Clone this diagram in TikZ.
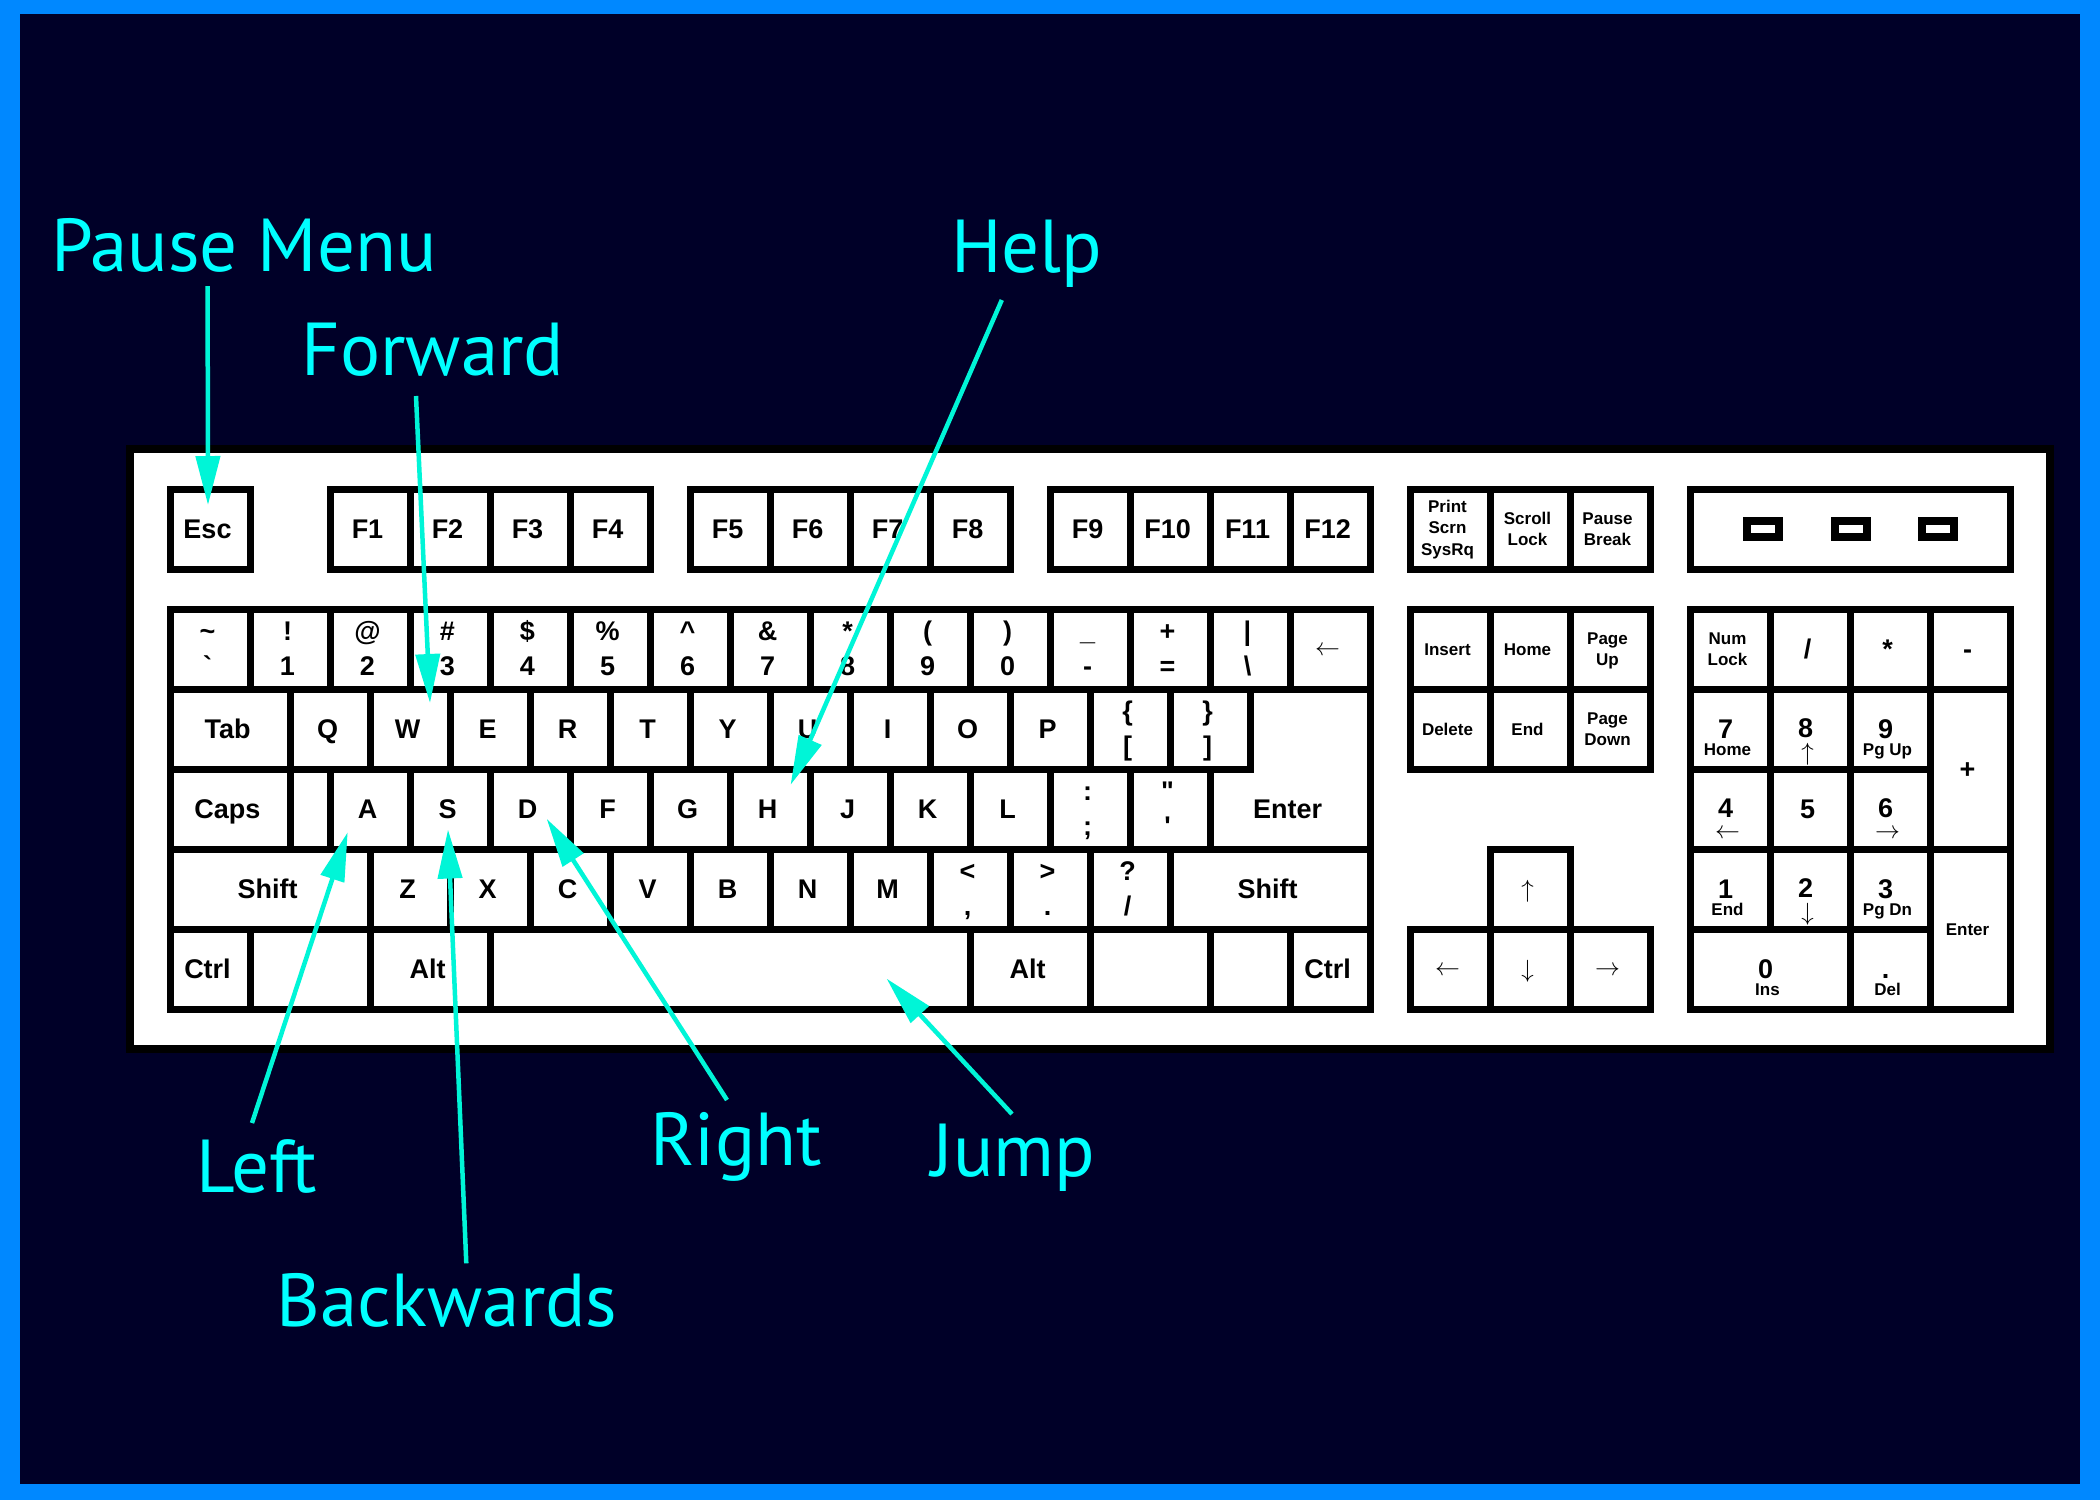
\documentclass[tikz,border=0pt]{standalone}
\usepackage{fontspec}
\newfontfamily\kf{Liberation Sans}[Ligatures=TeXOff]
\newfontfamily\lf{PT Sans}
\usetikzlibrary{arrows.meta}
\definecolor{bgnavy}{RGB}{0,0,40}
\definecolor{frameblue}{RGB}{0,136,255}
\definecolor{labcyan}{RGB}{0,255,255}
\definecolor{arrowcyan}{RGB}{0,245,215}
\tikzset{
  keybox/.style={draw=black, fill=white, line width=7pt, inner sep=0pt, outer sep=0pt, rectangle},
  kl/.style={font=\kf\bfseries\fontsize{27}{27}\selectfont, inner sep=0pt},
  ks/.style={font=\kf\bfseries\fontsize{17}{17}\selectfont, inner sep=0pt},
  ka/.style={font=\fontsize{27}{27}\selectfont, inner sep=0pt},
  kas/.style={font=\fontsize{24}{24}\selectfont, inner sep=0pt},
  callout/.style={font=\lf\fontsize{75}{80}\selectfont, text=labcyan, inner sep=0pt},
  pointer/.style={draw=arrowcyan, line width=4.5pt, -{Triangle[length=49pt,width=24pt]}},
}
\newcommand\KEY[5]{\node[keybox, minimum width={80*(#3-#2)}, minimum height={80*(#5-#4)}] (#1) at ({170.5+40*(#2+#3)},{489+40*(#4+#5)}) {};}
\newcommand\LA[2]{\node[kl, anchor=base] (#1-t) at ([xshift=-3pt,yshift=-9pt]#1.center) {#2};}
\newcommand\LB[3]{\node[kl, anchor=base] (#1-t) at ([xshift=-3pt,yshift=9pt]#1.center) {#2};
  \node[kl, anchor=base] (#1-b) at ([xshift=-3pt,yshift=-26pt]#1.center) {#3};}
\newcommand\LS[2]{\node[ks, anchor=base] (#1-t) at ([xshift=-3pt,yshift=-6pt]#1.center) {#2};}
\newcommand\LT[3]{\node[ks, anchor=base] (#1-t) at ([xshift=-3pt,yshift=5pt]#1.center) {#2};
  \node[ks, anchor=base] (#1-b) at ([xshift=-3pt,yshift=-16.5pt]#1.center) {#3};}
\newcommand\LN[3]{\node[kl, anchor=base] (#1-t) at ([xshift=-5pt,yshift=-9pt]#1.center) {#2};
  \node[ks, anchor=base] (#1-b) at ([xshift=-3pt,yshift=-26.5pt]#1.center) {#3};}
\newcommand\LR[3]{\node[kl, anchor=base] (#1-t) at ([xshift=-5pt,yshift=-8pt]#1.center) {#2};
  \node[kas] (#1-b) at ([xshift=-3pt,yshift=-25pt]#1.center) {$#3$};}
\newcommand\LAR[2]{\node[ka] (#1-t) at ([xshift=-3pt,yshift=-2pt]#1.center) {$#2$};}
\begin{document}
\begin{tikzpicture}[x=1pt, y=-1pt]
\useasboundingbox (0,0) rectangle (2100,1500);
\fill[frameblue] (0,0) rectangle (2100,1500);
\fill[bgnavy] (20,14) rectangle (2080,1484);
% keyboard body
\draw[line width=8pt, fill=white] (130,449.2) rectangle (2049.5,1048.7);
% function row
\KEY{esc}{0}{1}{0}{1}\LA{esc}{Esc}
\KEY{f1}{2}{3}{0}{1}\LA{f1}{F1}
\KEY{f2}{3}{4}{0}{1}\LA{f2}{F2}
\KEY{f3}{4}{5}{0}{1}\LA{f3}{F3}
\KEY{f4}{5}{6}{0}{1}\LA{f4}{F4}
\KEY{f5}{6.5}{7.5}{0}{1}\LA{f5}{F5}
\KEY{f6}{7.5}{8.5}{0}{1}\LA{f6}{F6}
\KEY{f7}{8.5}{9.5}{0}{1}\LA{f7}{F7}
\KEY{f8}{9.5}{10.5}{0}{1}\LA{f8}{F8}
\KEY{f9}{11}{12}{0}{1}\LA{f9}{F9}
\KEY{f10}{12}{13}{0}{1}\LA{f10}{F10}
\KEY{f11}{13}{14}{0}{1}\LA{f11}{F11}
\KEY{f12}{14}{15}{0}{1}\LA{f12}{F12}
\KEY{prt}{15.5}{16.5}{0}{1}
\node[ks, anchor=base] (prt-a) at ([xshift=-3pt,yshift=16.7pt]prt.center) {Print};
\node[ks, anchor=base] (prt-b) at ([xshift=-3pt,yshift=-4.2pt]prt.center) {Scrn};
\node[ks, anchor=base] (prt-c) at ([xshift=-3pt,yshift=-26.8pt]prt.center) {SysRq};
\KEY{scr}{16.5}{17.5}{0}{1}\LT{scr}{Scroll}{Lock}
\KEY{pau}{17.5}{18.5}{0}{1}\LT{pau}{Pause}{Break}
\KEY{led}{19}{23}{0}{1}
\foreach \cx [count=\i] in {1763,1850.5,1938}{
  \fill[black] (\cx-20,517) rectangle (\cx+20,541);
  \fill[white] (\cx-12,525) rectangle (\cx+12,533);
}
% number row
\KEY{k0}{0}{1}{1.5}{2.5}\LB{k0}{\textasciitilde}{\textasciigrave}
\KEY{k1}{1}{2}{1.5}{2.5}\LB{k1}{!}{1}
\KEY{k2}{2}{3}{1.5}{2.5}\LB{k2}{@}{2}
\KEY{k3}{3}{4}{1.5}{2.5}\LB{k3}{\#}{3}
\KEY{k4}{4}{5}{1.5}{2.5}\LB{k4}{\$}{4}
\KEY{k5}{5}{6}{1.5}{2.5}\LB{k5}{\%}{5}
\KEY{k6}{6}{7}{1.5}{2.5}\LB{k6}{\textasciicircum}{6}
\KEY{k7}{7}{8}{1.5}{2.5}\LB{k7}{\&}{7}
\KEY{k8}{8}{9}{1.5}{2.5}\LB{k8}{*}{8}
\KEY{k9}{9}{10}{1.5}{2.5}\LB{k9}{(}{9}
\KEY{k10}{10}{11}{1.5}{2.5}\LB{k10}{)}{0}
\KEY{k11}{11}{12}{1.5}{2.5}\LB{k11}{\_}{-}
\KEY{k12}{12}{13}{1.5}{2.5}\LB{k12}{+}{=}
\KEY{k13}{13}{14}{1.5}{2.5}\LB{k13}{\textbar}{\textbackslash}
\KEY{bksp}{14}{15}{1.5}{2.5}\LAR{bksp}{\leftarrow}
% tab row
\KEY{tab}{0}{1.5}{2.5}{3.5}\LA{tab}{Tab}
\KEY{q}{1.5}{2.5}{2.5}{3.5}\LA{q}{Q}
\KEY{w}{2.5}{3.5}{2.5}{3.5}\LA{w}{W}
\KEY{e}{3.5}{4.5}{2.5}{3.5}\LA{e}{E}
\KEY{r}{4.5}{5.5}{2.5}{3.5}\LA{r}{R}
\KEY{t}{5.5}{6.5}{2.5}{3.5}\LA{t}{T}
\KEY{y}{6.5}{7.5}{2.5}{3.5}\LA{y}{Y}
\KEY{u}{7.5}{8.5}{2.5}{3.5}\LA{u}{U}
\KEY{i}{8.5}{9.5}{2.5}{3.5}\LA{i}{I}
\KEY{o}{9.5}{10.5}{2.5}{3.5}\LA{o}{O}
\KEY{p}{10.5}{11.5}{2.5}{3.5}\LA{p}{P}
\KEY{lbr}{11.5}{12.5}{2.5}{3.5}\LB{lbr}{\{}{[}
\KEY{rbr}{12.5}{13.5}{2.5}{3.5}\LB{rbr}{\}}{]}
% enter (L shape)
\draw[line width=7pt, fill=white, line join=miter] (1250.5,689) -- (1370.5,689) -- (1370.5,849) -- (1210.5,849) -- (1210.5,769) -- (1250.5,769) -- cycle;
\node[kl, anchor=base] (enter-t) at (1287.5,818) {Enter};
% caps row
\KEY{caps}{0}{1.5}{3.5}{4.5}\LA{caps}{Caps}
\KEY{blk3}{1.5}{2}{3.5}{4.5}
\KEY{a}{2}{3}{3.5}{4.5}\LA{a}{A}
\KEY{s}{3}{4}{3.5}{4.5}\LA{s}{S}
\KEY{d}{4}{5}{3.5}{4.5}\LA{d}{D}
\KEY{f}{5}{6}{3.5}{4.5}\LA{f}{F}
\KEY{g}{6}{7}{3.5}{4.5}\LA{g}{G}
\KEY{h}{7}{8}{3.5}{4.5}\LA{h}{H}
\KEY{j}{8}{9}{3.5}{4.5}\LA{j}{J}
\KEY{k}{9}{10}{3.5}{4.5}\LA{k}{K}
\KEY{l}{10}{11}{3.5}{4.5}\LA{l}{L}
\KEY{semi}{11}{12}{3.5}{4.5}\LB{semi}{:}{;}
\KEY{quot}{12}{13}{3.5}{4.5}\LB{quot}{"}{'}
% shift row
\KEY{lsh}{0}{2.5}{4.5}{5.5}\LA{lsh}{Shift}
\KEY{z}{2.5}{3.5}{4.5}{5.5}\LA{z}{Z}
\KEY{x}{3.5}{4.5}{4.5}{5.5}\LA{x}{X}
\KEY{c}{4.5}{5.5}{4.5}{5.5}\LA{c}{C}
\KEY{v}{5.5}{6.5}{4.5}{5.5}\LA{v}{V}
\KEY{b}{6.5}{7.5}{4.5}{5.5}\LA{b}{B}
\KEY{n}{7.5}{8.5}{4.5}{5.5}\LA{n}{N}
\KEY{m}{8.5}{9.5}{4.5}{5.5}\LA{m}{M}
\KEY{comma}{9.5}{10.5}{4.5}{5.5}\LB{comma}{<}{,}
\KEY{period}{10.5}{11.5}{4.5}{5.5}\LB{period}{>}{.}
\KEY{slash}{11.5}{12.5}{4.5}{5.5}\LB{slash}{?}{/}
\KEY{rsh}{12.5}{15}{4.5}{5.5}\LA{rsh}{Shift}
% bottom row
\KEY{lctrl}{0}{1}{5.5}{6.5}\LA{lctrl}{Ctrl}
\KEY{blk5a}{1}{2.5}{5.5}{6.5}
\KEY{lalt}{2.5}{4}{5.5}{6.5}\LA{lalt}{Alt}
\KEY{space}{4}{10}{5.5}{6.5}
\KEY{ralt}{10}{11.5}{5.5}{6.5}\LA{ralt}{Alt}
\KEY{blk5b}{11.5}{13}{5.5}{6.5}
\KEY{blk5c}{13}{14}{5.5}{6.5}
\KEY{rctrl}{14}{15}{5.5}{6.5}\LA{rctrl}{Ctrl}
% navigation cluster
\KEY{ins}{15.5}{16.5}{1.5}{2.5}\LS{ins}{Insert}
\KEY{home}{16.5}{17.5}{1.5}{2.5}\LS{home}{Home}
\KEY{pgup}{17.5}{18.5}{1.5}{2.5}\LT{pgup}{Page}{Up}
\KEY{del}{15.5}{16.5}{2.5}{3.5}\LS{del}{Delete}
\KEY{end}{16.5}{17.5}{2.5}{3.5}\LS{end}{End}
\KEY{pgdn}{17.5}{18.5}{2.5}{3.5}\LT{pgdn}{Page}{Down}
\KEY{up}{16.5}{17.5}{4.5}{5.5}\LAR{up}{\uparrow}
\KEY{left}{15.5}{16.5}{5.5}{6.5}\LAR{left}{\leftarrow}
\KEY{down}{16.5}{17.5}{5.5}{6.5}\LAR{down}{\downarrow}
\KEY{right}{17.5}{18.5}{5.5}{6.5}\LAR{right}{\rightarrow}
% numeric keypad
\KEY{num}{19}{20}{1.5}{2.5}\LT{num}{Num}{Lock}
\KEY{ndiv}{20}{21}{1.5}{2.5}\LA{ndiv}{/}
\KEY{nmul}{21}{22}{1.5}{2.5}\LA{nmul}{*}
\KEY{nsub}{22}{23}{1.5}{2.5}\LA{nsub}{-}
\KEY{n7}{19}{20}{2.5}{3.5}\LN{n7}{7}{Home}
\KEY{n8}{20}{21}{2.5}{3.5}\LR{n8}{8}{\uparrow}
\KEY{n9}{21}{22}{2.5}{3.5}\LN{n9}{9}{Pg Up}
\KEY{nadd}{22}{23}{2.5}{4.5}\LA{nadd}{+}
\KEY{n4}{19}{20}{3.5}{4.5}\LR{n4}{4}{\leftarrow}
\KEY{n5}{20}{21}{3.5}{4.5}\LA{n5}{5}
\KEY{n6}{21}{22}{3.5}{4.5}\LR{n6}{6}{\rightarrow}
\KEY{n1}{19}{20}{4.5}{5.5}\LN{n1}{1}{End}
\KEY{n2}{20}{21}{4.5}{5.5}\LR{n2}{2}{\downarrow}
\KEY{n3}{21}{22}{4.5}{5.5}\LN{n3}{3}{Pg Dn}
\KEY{nent}{22}{23}{4.5}{6.5}\LS{nent}{Enter}
\KEY{n0}{19}{21}{5.5}{6.5}\LN{n0}{0}{Ins}
\KEY{ndot}{21}{22}{5.5}{6.5}\LN{ndot}{.}{Del}
% callout labels
\node[callout, anchor=base] (pm) at (244,271) {Pause Menu};
\node[callout, anchor=base] (fw) at (432.8,375) {Forward};
\node[callout, anchor=base] (hp) at (1026.7,272.7) {Help};
\node[callout, anchor=base] (lf) at (257,1192.7) {Left};
\node[callout, anchor=base] (bw) at (447.2,1326) {Backwards};
\node[callout, anchor=base] (rt) at (736,1165) {Right};
\node[callout, anchor=base] (jp) at (1013.4,1176) {Jump};
% pointer ends
\coordinate (pmA) at (207.6,286);   \coordinate (pmB) at (208,505);
\coordinate (fwA) at (416,396);     \coordinate (fwB) at (430,703);
\coordinate (hpA) at (1001.8,300);  \coordinate (hpB) at (790.6,784.8);
\coordinate (lfA) at (252,1123);    \coordinate (lfB) at (347.7,832.2);
\coordinate (bwA) at (466.3,1263.3);\coordinate (bwB) at (448,829.5);
\coordinate (rtA) at (727,1100);    \coordinate (rtB) at (546.7,818.8);
\coordinate (jpA) at (1012,1114);   \coordinate (jpB) at (886.6,978.6);
\draw[pointer] (pmA) -- (pmB);
\draw[pointer] (fwA) -- (fwB);
\draw[pointer] (hpA) -- (hpB);
\draw[pointer] (lfA) -- (lfB);
\draw[pointer] (bwA) -- (bwB);
\draw[pointer] (rtA) -- (rtB);
\draw[pointer] (jpA) -- (jpB);
\end{tikzpicture}
\end{document}
